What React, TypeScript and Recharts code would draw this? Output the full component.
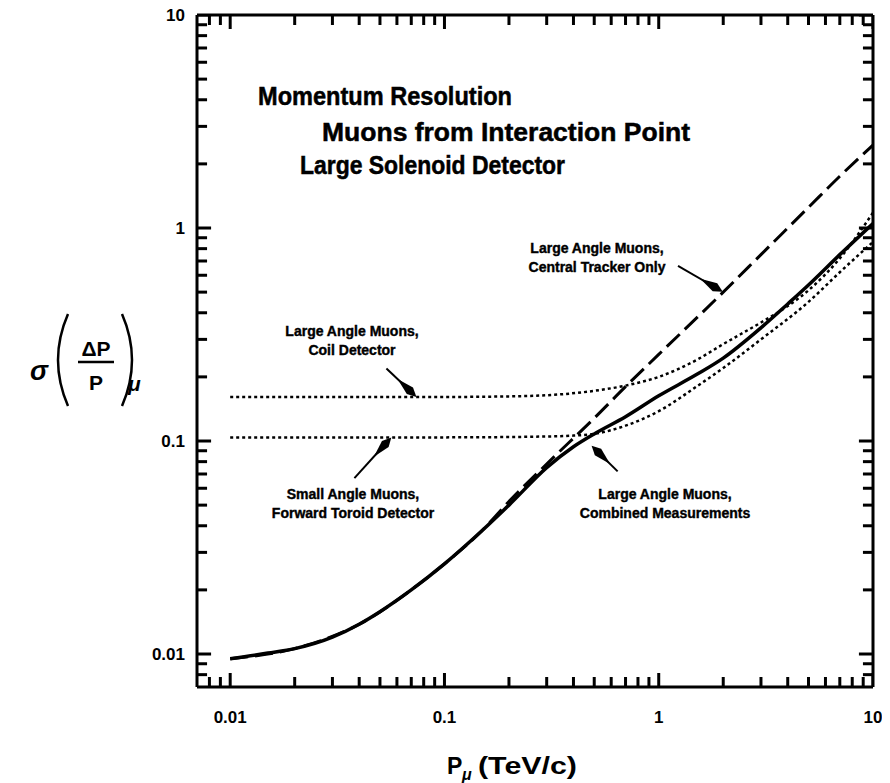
import { LineChart, Line, XAxis, YAxis, ReferenceLine } from "recharts";

// momentum (TeV/c) and sigma(dP/P)
const pSolid = [0.01, 0.015, 0.02, 0.03, 0.04, 0.05, 0.07, 0.1, 0.15, 0.2, 0.3, 0.4, 0.5, 0.7, 1, 1.5, 2, 3, 4, 5, 7, 10];
const vSolid = [0.0095, 0.0101, 0.0106, 0.012, 0.0138, 0.0158, 0.02, 0.0265, 0.038, 0.05, 0.075, 0.094, 0.108, 0.13, 0.163, 0.205, 0.245, 0.34, 0.44, 0.54, 0.75, 1.05];

const pTracker = [0.01, 0.02, 0.04, 0.07, 0.1, 0.15, 0.2, 0.3, 0.5, 0.7, 1, 2, 3, 5, 7, 10];
const vTracker = [0.0095, 0.0106, 0.0138, 0.02, 0.0265, 0.038, 0.052, 0.078, 0.128, 0.18, 0.255, 0.5, 0.75, 1.25, 1.75, 2.45];

const pCoil = [0.01, 0.03, 0.1, 0.2, 0.3, 0.5, 0.7, 1, 1.5, 2, 3, 4, 5, 7, 10];
const vCoil = [0.161, 0.161, 0.161, 0.162, 0.164, 0.172, 0.182, 0.2, 0.24, 0.285, 0.36, 0.43, 0.51, 0.72, 1.18];

const pToroid = [0.01, 0.03, 0.1, 0.3, 0.4, 0.5, 0.7, 1, 1.5, 2, 3, 5, 7, 10];
const vToroid = [0.104, 0.104, 0.104, 0.105, 0.106, 0.108, 0.118, 0.138, 0.18, 0.22, 0.3, 0.45, 0.62, 0.86];

const decadeTicks = [0.01, 0.1, 1, 10];
const minorSteps = [2, 3, 4, 5, 6, 7, 8, 9];

// arrows: [fromP, fromV, toP, toV]
const arrows = [
  [1.23, 0.664, 1.99, 0.502],
  [0.0536, 0.219, 0.074, 0.161],
  [0.038, 0.067, 0.0565, 0.104],
  [0.643, 0.072, 0.486, 0.095],
];

const lo = 0.007;
const hi = 10;
const domain = [lo, hi];

const frameTicks: number[] = [0.008, 0.009];
decadeTicks.forEach((d) => {
  frameTicks.push(d);
  if (d < 10) minorSteps.forEach((m) => frameTicks.push(+(d * m).toPrecision(3)));
});

const toRows = (ps: number[], vs: number[]) => ps.map((p, i) => ({ p, v: vs[i] }));

const font = "'Liberation Sans', Arial, sans-serif";

const isMajor = (v: number) => Math.abs(Math.log10(v) - Math.round(Math.log10(v))) < 1e-6;
// inward tick length as a factor on the log axis (~213 px per decade)
const tickFactor = (v: number) => Math.pow(10, (isMajor(v) ? 14 : 10) / 213);

// each frame tick as a tiny two-point series
const tickRows: { p: number; v: number }[][] = [];
frameTicks.forEach((t) => {
  const f = tickFactor(t);
  tickRows.push([{ p: t, v: lo }, { p: t, v: lo * f }]);
  tickRows.push([{ p: t, v: hi / f }, { p: t, v: hi }]);
  tickRows.push([{ p: lo, v: t }, { p: lo * f, v: t }]);
  tickRows.push([{ p: hi / f, v: t }, { p: hi, v: t }]);
});

const BottomLabel = (props: any) => {
  const { x, y, payload } = props;
  return (
    <text x={x} y={y + 36} textAnchor="middle" fill="#000" fontSize={17} fontWeight="bold" fontFamily={font}>
      {String(payload.value)}
    </text>
  );
};

const LeftLabel = (props: any) => {
  const { x, y, payload } = props;
  return (
    <text x={x - 12} y={y + 6} textAnchor="end" fill="#000" fontSize={17} fontWeight="bold" fontFamily={font}>
      {String(payload.value)}
    </text>
  );
};

const Arrow = (props: any) => {
  const { x1, y1, x2, y2 } = props;
  const dx = x2 - x1;
  const dy = y2 - y1;
  const L = Math.sqrt(dx * dx + dy * dy) || 1;
  const ux = dx / L;
  const uy = dy / L;
  const nx = -uy;
  const ny = ux;
  const pt = (back: number, side: number) => `${x2 - ux * back + nx * side},${y2 - uy * back + ny * side}`;
  return (
    <g>
      <line x1={x1} y1={y1} x2={x2 - ux * 10} y2={y2 - uy * 10} stroke="#000" strokeWidth={2} />
      <polygon points={[pt(0, 0), pt(9, 4.5), pt(26, 0), pt(9, -4.5)].join(" ")} fill="#000" />
    </g>
  );
};

const note = (x: number, y: number, lines: string[]) => (
  <text x={x} textAnchor="middle" fontFamily={font} fontWeight="bold" fontSize={14} fill="#000" stroke="#000" strokeWidth={0.4}>
    {lines.map((l, i) => (
      <tspan key={i} x={x} y={y + i * 19}>
        {l}
      </tspan>
    ))}
  </text>
);

const axisStyle = { stroke: "#000", strokeWidth: 3 };

export default function App() {
  return (
    <div style={{ width: 874, height: 783, marginTop: -8, background: "#fff" }}>
      <LineChart width={874} height={783} margin={{ top: 0, right: 0, bottom: 0, left: 0 }}>
        <XAxis
          dataKey="p"
          type="number"
          scale="log"
          domain={domain}
          allowDataOverflow
          ticks={decadeTicks}
          interval={0}
          height={96}
          tickSize={0}
          tickMargin={0}
          tickLine={false}
          tick={BottomLabel}
          axisLine={axisStyle}
        />
        <XAxis
          xAxisId="top"
          orientation="top"
          dataKey="p"
          type="number"
          scale="log"
          domain={domain}
          allowDataOverflow
          height={15}
          tick={false}
          tickLine={false}
          axisLine={axisStyle}
        />
        <YAxis
          dataKey="v"
          type="number"
          scale="log"
          domain={domain}
          allowDataOverflow
          ticks={decadeTicks}
          interval={0}
          width={189}
          tickSize={0}
          tickMargin={0}
          tickLine={false}
          tick={LeftLabel}
          axisLine={axisStyle}
        />
        <YAxis
          yAxisId="right"
          orientation="right"
          dataKey="v"
          type="number"
          scale="log"
          domain={domain}
          allowDataOverflow
          width={9}
          tick={false}
          tickLine={false}
          axisLine={axisStyle}
        />
        {tickRows.map((rows, i) => (
          <Line
            key={"tick" + i}
            data={rows}
            dataKey="v"
            stroke="#000"
            strokeWidth={3}
            dot={false}
            activeDot={false}
            isAnimationActive={false}
            type="linear"
          />
        ))}
        <Line data={toRows(pTracker, vTracker)} dataKey="v" stroke="#000" strokeWidth={3} strokeDasharray="18 7" dot={false} isAnimationActive={false} type="monotone" />
        <Line data={toRows(pCoil, vCoil)} dataKey="v" stroke="#000" strokeWidth={2.5} strokeDasharray="3 3" dot={false} isAnimationActive={false} type="monotone" />
        <Line data={toRows(pToroid, vToroid)} dataKey="v" stroke="#000" strokeWidth={2.5} strokeDasharray="3 3" dot={false} isAnimationActive={false} type="monotone" />
        <Line data={toRows(pSolid, vSolid)} dataKey="v" stroke="#000" strokeWidth={3.5} dot={false} isAnimationActive={false} type="monotone" />
        {arrows.map((a, i) => (
          <ReferenceLine
            key={"a" + i}
            segment={[
              { x: a[0], y: a[1] },
              { x: a[2], y: a[3] },
            ]}
            shape={Arrow}
          />
        ))}
        <g fontFamily={font} fontWeight="bold" fill="#000" stroke="#000" strokeWidth={0.5}>
          <text x={250} y={105} fontSize={25} textLength={254} lengthAdjust="spacingAndGlyphs">Momentum Resolution</text>
          <text x={314} y={141} fontSize={25} textLength={368} lengthAdjust="spacingAndGlyphs">Muons from Interaction Point</text>
          <text x={292} y={174} fontSize={25} textLength={265} lengthAdjust="spacingAndGlyphs">Large Solenoid Detector</text>
        </g>
        {note(589, 253, ["Large Angle Muons,", "Central Tracker Only"])}
        {note(344, 336, ["Large Angle Muons,", "Coil Detector"])}
        {note(345, 499, ["Small Angle Muons,", "Forward Toroid Detector"])}
        {note(657, 499, ["Large Angle Muons,", "Combined Measurements"])}
        <g fontFamily={font} fill="#000">
          <text x={22} y={380} fontSize={27} fontStyle="italic" fontWeight="bold">σ</text>
          <path d="M60,314 Q40,360 60,406" fill="none" stroke="#000" strokeWidth={2.5} />
          <path d="M114,314 Q134,360 114,406" fill="none" stroke="#000" strokeWidth={2.5} />
          <text x={88} y={356} fontSize={21} fontWeight="bold" textAnchor="middle">ΔP</text>
          <line x1={70} x2={106} y1={362} y2={362} stroke="#000" strokeWidth={2.5} />
          <text x={88} y={390} fontSize={21} fontWeight="bold" textAnchor="middle">P</text>
          <text x={120} y={391} fontSize={21} fontStyle="italic" fontWeight="bold">μ</text>
          <text x={439} y={774} fontSize={23} fontWeight="bold">P</text>
          <text x={454} y={780} fontSize={16} fontStyle="italic" fontWeight="bold">μ</text>
          <text x={470} y={774} fontSize={23} fontWeight="bold" textLength={99} lengthAdjust="spacingAndGlyphs">(TeV/c)</text>
        </g>
      </LineChart>
    </div>
  );
}
